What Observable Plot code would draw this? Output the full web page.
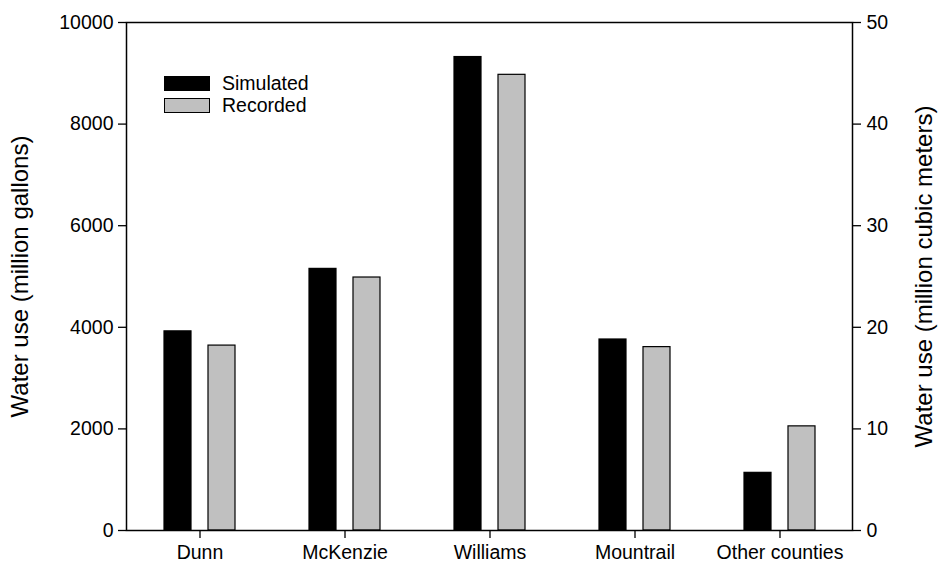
<!DOCTYPE html>
<html>
<head>
<meta charset="utf-8">
<script src="https://cdn.jsdelivr.net/npm/d3@7"></script>
<script src="https://cdn.jsdelivr.net/npm/@observablehq/plot@0.6"></script>
<style>
  html, body { margin: 0; padding: 0; background: white; }
  #wrap { position: relative; width: 939px; height: 569px; font-family: "Liberation Sans", Arial, sans-serif; }
  .legend { position: absolute; left: 164px; top: 72px; font-size: 19.5px; color: black; }
  .legend .row { display: flex; align-items: center; height: 22.5px; }
  .legend .sw { width: 44px; height: 13px; border: 1.2px solid black; margin-right: 12px; box-sizing: content-box; }
</style>
</head>
<body>
<div id="wrap"></div>
<script>
const counties = ["Dunn", "McKenzie", "Williams", "Mountrail", "Other counties"];
const simulated = [3920, 5150, 9320, 3760, 1135];
const recorded = [3640, 4980, 8970, 3610, 2050];
const seriesNames = ["Simulated", "Recorded"];
const seriesColors = ["black", "#c0c0c0"];
const leftTicks = [0, 2000, 4000, 6000, 8000, 10000];
const rightTicks = [0, 10, 20, 30, 40, 50];
const leftTitle = "Water use (million gallons)";
const rightTitle = "Water use (million cubic meters)";

const simRows = counties.map((c, i) => ({county: c, series: seriesNames[0], value: simulated[i]}));
const recRows = counties.map((c, i) => ({county: c, series: seriesNames[1], value: recorded[i]}));
const rightScale = leftTicks[leftTicks.length - 1] / rightTicks[rightTicks.length - 1];

const chart = Plot.plot({
  width: 939,
  height: 569,
  marginLeft: 126,
  marginRight: 87,
  marginTop: 22,
  marginBottom: 39,
  style: {fontFamily: "Liberation Sans, Arial, sans-serif", fontSize: "19.5px", color: "black", background: "white", overflow: "visible"},
  x: {domain: counties, padding: 0, label: null},
  y: {domain: [0, 10000], label: null},
  marks: [
    Plot.barY(simRows, {x: "county", y: "value", fill: seriesColors[0], stroke: "black", strokeWidth: 1.2, insetLeft: 37, insetRight: 81}),
    Plot.barY(recRows, {x: "county", y: "value", fill: seriesColors[1], stroke: "black", strokeWidth: 1.2, insetLeft: 81, insetRight: 37}),
    Plot.frame({stroke: "black", strokeWidth: 1.5}),
    Plot.axisX({tickSize: 8, tickPadding: 7, strokeWidth: 1.3, fontSize: 19.5, label: null}),
    Plot.axisY({ticks: leftTicks, tickSize: 8, tickPadding: 5, strokeWidth: 1.3, fontSize: 19.5, label: null, tickFormat: d => String(d)}),
    Plot.axisY({anchor: "right", ticks: rightTicks.map(v => v * rightScale), tickFormat: d => String(d / rightScale), tickSize: 8, tickPadding: 6, strokeWidth: 1.3, fontSize: 19.5, label: null}),
    Plot.text([leftTitle], {frameAnchor: "left", textAnchor: "middle", dx: -106, rotate: -90, fontSize: 24, fill: "black"}),
    Plot.text([rightTitle], {frameAnchor: "right", textAnchor: "middle", dx: 72, rotate: -90, fontSize: 24, fill: "black"})
  ]
});

const wrap = document.getElementById("wrap");
wrap.appendChild(chart);
const legend = document.createElement("div");
legend.className = "legend";
seriesNames.forEach((name, i) => {
  const row = document.createElement("div");
  row.className = "row";
  const sw = document.createElement("div");
  sw.className = "sw";
  sw.style.background = seriesColors[i];
  const label = document.createElement("span");
  label.textContent = name;
  row.appendChild(sw);
  row.appendChild(label);
  legend.appendChild(row);
});
wrap.appendChild(legend);
</script>
</body>
</html>
